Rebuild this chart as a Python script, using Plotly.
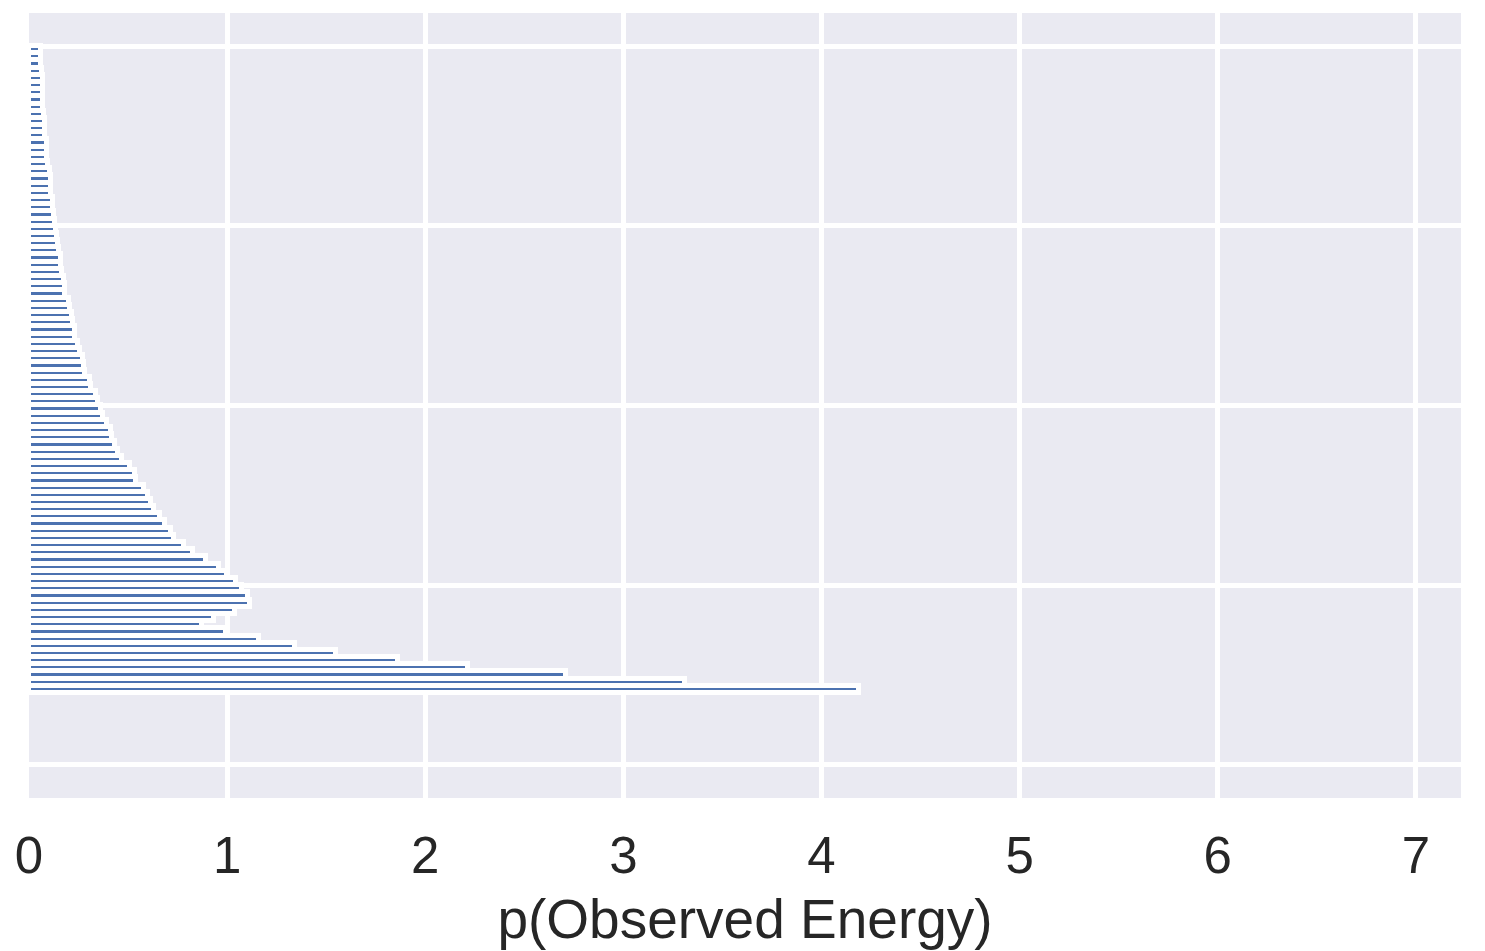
import plotly.graph_objects as go

# Histogram bins (index from top to bottom) and density values p(Observed Energy)
bin_index = list(range(90))
density = [
    0.060, 0.063, 0.060, 0.065, 0.070, 0.072, 0.072, 0.072, 0.073, 0.077,
    0.083, 0.083, 0.083, 0.092, 0.092, 0.093, 0.097, 0.104, 0.109, 0.112,
    0.112, 0.119, 0.120, 0.127, 0.132, 0.135, 0.140, 0.147, 0.152, 0.159,
    0.161, 0.168, 0.178, 0.183, 0.184, 0.203, 0.208, 0.215, 0.220, 0.233,
    0.233, 0.246, 0.257, 0.274, 0.279, 0.284, 0.307, 0.312, 0.336, 0.347,
    0.361, 0.373, 0.395, 0.413, 0.420, 0.433, 0.450, 0.471, 0.509, 0.536,
    0.538, 0.580, 0.602, 0.617, 0.633, 0.662, 0.688, 0.718, 0.731, 0.780,
    0.827, 0.891, 0.958, 0.997, 1.044, 1.076, 1.107, 1.114, 1.038, 0.935,
    0.874, 0.992, 1.159, 1.344, 1.552, 1.864, 2.217, 2.710, 3.313, 4.191,
]
x_ticks = [0, 1, 2, 3, 4, 5, 6, 7]
y_ticks = [0, 25, 50, 75, 100]

fig = go.Figure(
    go.Bar(
        x=density,
        y=[i + 0.5 for i in bin_index],
        orientation="h",
        width=1,
        marker=dict(color="#4C72B0", line=dict(color="white", width=5)),
    )
)

font_family = "Liberation Sans, Arial, sans-serif"

fig.update_layout(
    width=1477,
    height=943,
    margin=dict(l=21, r=24, t=5, b=153),
    paper_bgcolor="white",
    plot_bgcolor="#EAEAF2",
    showlegend=False,
    bargap=0,
    font=dict(family=font_family, color="#262626"),
    xaxis=dict(
        range=[0, 7.228],
        tickvals=x_ticks,
        ticktext=[str(t) for t in x_ticks],
        tickfont=dict(size=51, color="#262626"),
        showgrid=True,
        gridcolor="white",
        gridwidth=4.7,
        zeroline=False,
        showline=False,
        ticks="outside",
        ticklen=13,
        tickcolor="rgba(0,0,0,0)",
        title=dict(text="p(Observed Energy)", font=dict(size=55, color="#262626"), standoff=16),
    ),
    yaxis=dict(
        range=[104.6, -4.59],
        tickvals=y_ticks,
        showticklabels=False,
        showgrid=True,
        gridcolor="white",
        gridwidth=4.7,
        zeroline=False,
        showline=False,
        ticks="",
    ),
)

fig.write_html("out.html")
